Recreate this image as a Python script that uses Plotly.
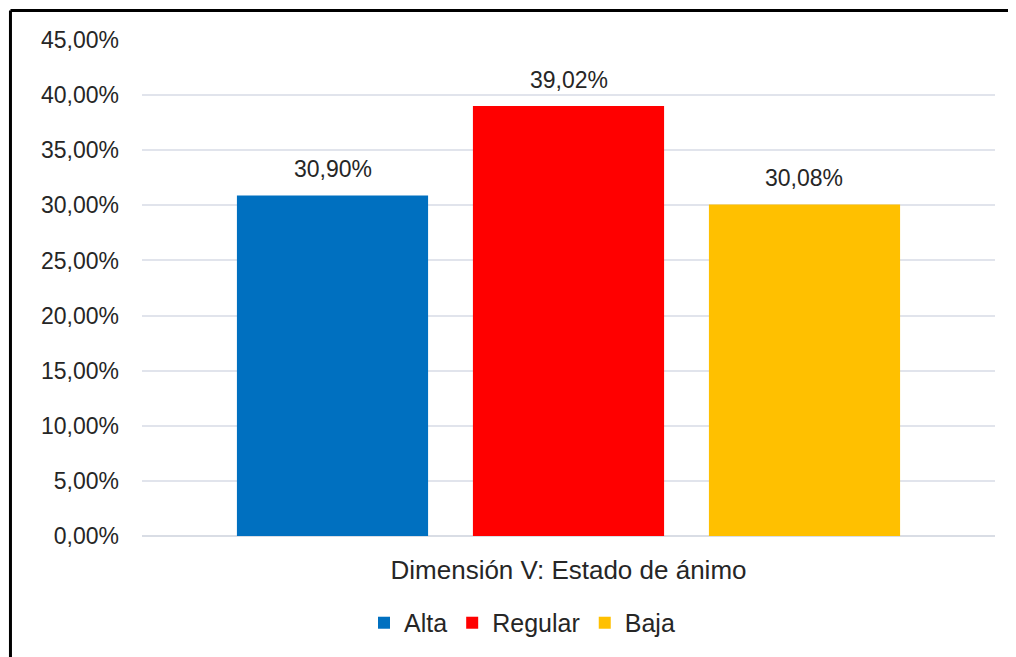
import plotly.graph_objects as go

category = ["Dimensión V: Estado de ánimo"]
series_names = ["Alta", "Regular", "Baja"]
series_values = [0.3090, 0.3902, 0.3008]
series_colors = ["#0070C0", "#FF0000", "#FFC000"]

FONT = "Liberation Sans, Arial"
W, H = 1008, 649
ML, MR, MT, MB = 134, 21, 32, 120
BARGAP = 0.17

fig = go.Figure()
for name, val, col in zip(series_names, series_values, series_colors):
    fig.add_trace(go.Bar(
        x=category, y=[val], name=name, marker_color=col,
        marker_line_width=0,
    ))

# data labels as annotations, offset to each bar's slot within the group
slot_px = (W - ML - MR) * (1 - BARGAP) / len(series_values)
n = len(series_values)
for i, val in enumerate(series_values):
    fig.add_annotation(
        x=category[0], y=val, xref="x", yref="y",
        text=f"{val * 100:.2f}%".replace(".", ","),
        showarrow=False, yanchor="bottom", xanchor="center",
        xshift=(i - (n - 1) / 2) * slot_px, yshift=11,
        font=dict(size=23, color="#262626", family=FONT),
    )

fig.update_layout(
    width=W, height=H,
    margin=dict(l=ML, r=MR, t=MT, b=MB),
    paper_bgcolor="white", plot_bgcolor="white",
    separators=",.",
    barmode="group", bargap=BARGAP, bargroupgap=0.19,
    font=dict(family=FONT, size=23, color="#262626"),
    showlegend=True,
    legend=dict(orientation="h", x=0.4455, xanchor="center", y=-0.173, yanchor="middle",
                font=dict(size=25), traceorder="normal"),
    yaxis=dict(range=[0, 0.45], dtick=0.05, tickformat=".2%", showgrid=True,
               gridcolor="#E1E4EC", gridwidth=1.5, zeroline=True, zerolinecolor="#D9DDE5",
               zerolinewidth=2, ticks="", ticklabelstandoff=22, showline=False,
               tickfont=dict(size=23)),
    xaxis=dict(showline=False, ticks="", showgrid=False, ticklabelstandoff=16,
               tickfont=dict(size=26)),
    shapes=[
        dict(type="line", xref="paper", yref="paper", x0=-0.1542, x1=-0.1542, y0=-0.4, y1=1.0594,
             line=dict(color="black", width=3)),
        dict(type="line", xref="paper", yref="paper", x0=-0.1542, x1=1.1, y0=1.0594, y1=1.0594,
             line=dict(color="black", width=3)),
    ],
)

fig.write_html("out.html")
